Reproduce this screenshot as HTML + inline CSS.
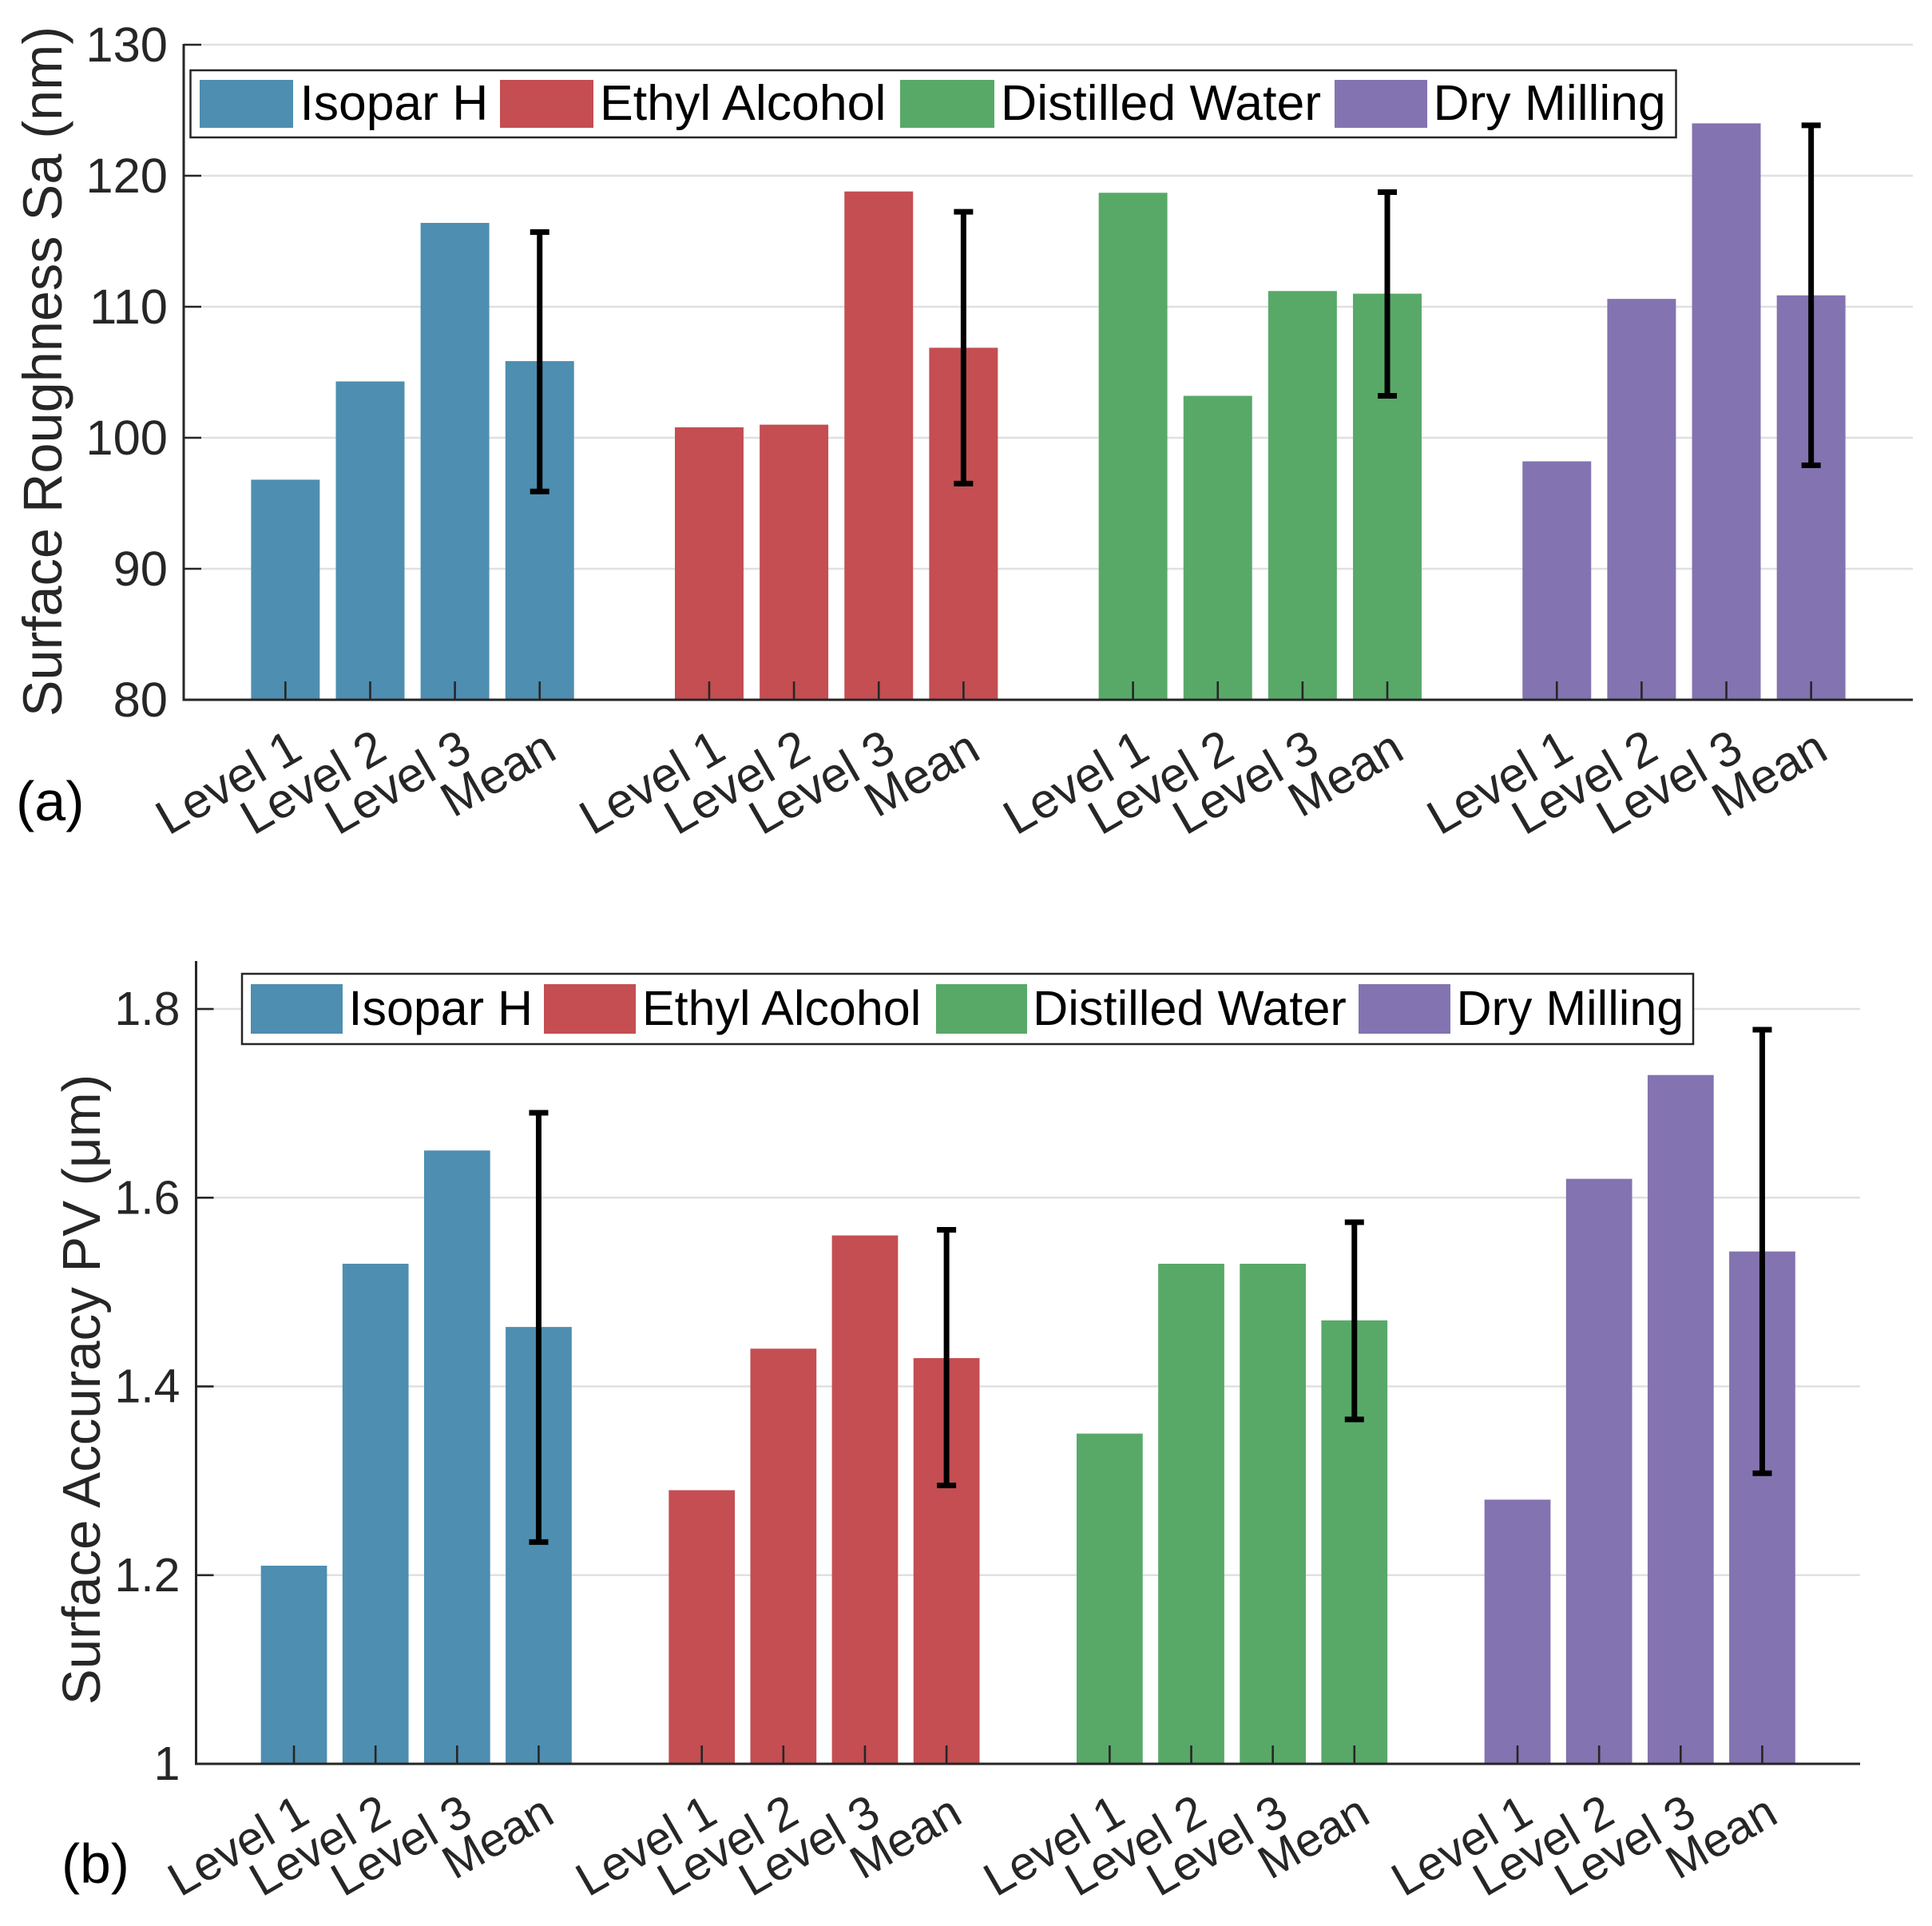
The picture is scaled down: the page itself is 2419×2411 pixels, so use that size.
<!DOCTYPE html>
<html lang="en">
<head>
<meta charset="utf-8">
<title>Surface Roughness and Accuracy</title>
<style>
html,body{margin:0;padding:0;background:#fff;}
svg{display:block;font-family:"Liberation Sans",Arial,sans-serif;}
</style>
</head>
<body>
<svg id="figure" xmlns="http://www.w3.org/2000/svg" width="2419" height="2411" viewBox="0 0 2419 2411">
  <rect width="2419" height="2411" fill="#fff"/>
  <g id="chart-a"></g>
  <g id="chart-b"></g>

  <text transform="translate(77,465) rotate(-90)" text-anchor="middle" font-size="68.5" fill="#262626">Surface Roughness Sa (nm)</text>
  <text transform="translate(125,1739.5) rotate(-90)" text-anchor="middle" font-size="67.2" fill="#262626">Surface Accuracy PV (μm)</text>
  <text x="20" y="1027" font-size="70" fill="#000">(a)</text>
  <text x="77" y="2357" font-size="69.5" fill="#000">(b)</text>

  <g>
    <rect x="238.5" y="88" width="1860" height="84" fill="#fff" stroke="#262626" stroke-width="2.5"/>
    <rect x="250" y="100" width="117" height="60" fill="#4e8eb0"/>
    <text x="375.5" y="150" font-size="62.4" fill="#000">Isopar H</text>
    <rect x="626" y="100" width="117" height="60" fill="#c44e52"/>
    <text x="751" y="150" font-size="62.6" fill="#000">Ethyl Alcohol</text>
    <rect x="1127" y="100" width="118" height="60" fill="#58a968"/>
    <text x="1253" y="150" font-size="62.6" fill="#000">Distilled Water</text>
    <rect x="1671" y="100" width="116" height="60" fill="#8373b0"/>
    <text x="1794.5" y="150" font-size="62.4" fill="#000">Dry Milling</text>
  </g>

  <g>
    <rect x="303" y="1219" width="1817" height="88" fill="#fff" stroke="#262626" stroke-width="2.5"/>
    <rect x="314" y="1232" width="115" height="62" fill="#4e8eb0"/>
    <text x="436.5" y="1283" font-size="61" fill="#000">Isopar H</text>
    <rect x="681" y="1232" width="115" height="62" fill="#c44e52"/>
    <text x="804" y="1283" font-size="61" fill="#000">Ethyl Alcohol</text>
    <rect x="1172" y="1232" width="114" height="62" fill="#58a968"/>
    <text x="1293" y="1283" font-size="61.3" fill="#000">Distilled Water</text>
    <rect x="1701" y="1232" width="115" height="62" fill="#8373b0"/>
    <text x="1823.5" y="1283" font-size="61" fill="#000">Dry Milling</text>
  </g>
</svg>
<script>
// ---- shared categories ----
const levelLabels = ["Level 1", "Level 2", "Level 3", "Mean"];
const groupNames = ["isopar", "ethyl", "water", "dry"];
const groupColors = ["#4e8eb0", "#c44e52", "#58a968", "#8373b0"];

// ---- panel (a): surface roughness Sa (nm) ----
const roughnessIsopar = [96.8, 104.3, 116.4, 105.85];
const roughnessEthyl = [100.8, 101.0, 118.8, 106.87];
const roughnessWater = [118.7, 103.2, 111.2, 111.0];
const roughnessDry = [98.2, 110.6, 124.0, 110.87];
const roughnessErrLow = [95.9, 96.5, 103.2, 97.9];
const roughnessErrHigh = [115.7, 117.25, 118.75, 123.85];
const roughnessTicks = [80, 90, 100, 110, 120, 130];
const roughnessTickLabels = ["80", "90", "100", "110", "120", "130"];

// ---- panel (b): surface accuracy PV (um) ----
const accuracyIsopar = [1.21, 1.53, 1.65, 1.463];
const accuracyEthyl = [1.29, 1.44, 1.56, 1.43];
const accuracyWater = [1.35, 1.53, 1.53, 1.47];
const accuracyDry = [1.28, 1.62, 1.73, 1.543];
const accuracyErrLow = [1.235, 1.295, 1.365, 1.308];
const accuracyErrHigh = [1.69, 1.566, 1.574, 1.778];
const accuracyTicks = [1, 1.2, 1.4, 1.6, 1.8];
const accuracyTickLabels = ["1", "1.2", "1.4", "1.6", "1.8"];

const NS = "http://www.w3.org/2000/svg";
function mk(tag, attrs, parent) {
  const el = document.createElementNS(NS, tag);
  for (const k in attrs) el.setAttribute(k, attrs[k]);
  parent.appendChild(el);
  return el;
}

function drawChart(root, cfg) {
  const xScale = v => cfg.left + (v - cfg.xMin) / (cfg.xMax - cfg.xMin) * (cfg.right - cfg.left);
  const yScale = v => cfg.bottom - (v - cfg.yMin) / (cfg.yMax - cfg.yMin) * (cfg.bottom - cfg.top);
  const unit = xScale(1) - xScale(0);
  const ink = "#262626";

  // gridlines
  cfg.ticks.forEach((t, i) => {
    if (t === cfg.yMin) return;
    const g = mk("line", {x1: cfg.left, x2: cfg.right, y1: yScale(t), y2: yScale(t), stroke: "#e0e0e0", "stroke-width": 2.5}, root);
    
    
  });

  // bars
  const slots = [];
  cfg.series.forEach((vals, g) => {
    vals.forEach((v, i) => {
      const pos = 1 + g * 5 + i;
      slots.push({pos: pos, label: levelLabels[i]});
      const bar = mk("rect", {
        x: xScale(pos) - 0.405 * unit, width: 0.81 * unit,
        y: yScale(v), height: yScale(cfg.yMin) - yScale(v),
        fill: groupColors[g]
      }, root);
      
      
    });
  });

  // x ticks (inward), drawn over bars
  slots.forEach(s => {
    const tick = mk("line", {x1: xScale(s.pos), x2: xScale(s.pos), y1: cfg.bottom, y2: cfg.bottom - 23, stroke: ink, "stroke-width": 2.6}, root);
    
    
    const lab = mk("text", {
      transform: "translate(" + (xScale(s.pos) + cfg.labelDx) + "," + (cfg.bottom + cfg.labelDy) + ") rotate(-30)",
      "text-anchor": "end", "font-size": cfg.xFont, fill: ink
    }, root);
    lab.textContent = s.label;
    
    
  });

  // error bars on the Mean bars
  cfg.errLow.forEach((lo, g) => {
    const hi = cfg.errHigh[g];
    const x = xScale(1 + g * 5 + 3);
    const body = mk("line", {x1: x, x2: x, y1: yScale(hi), y2: yScale(lo), stroke: "#000", "stroke-width": 7}, root);
    
    
    [hi, lo].forEach(v => {
      const cap = mk("line", {x1: x - 12, x2: x + 12, y1: yScale(v), y2: yScale(v), stroke: "#000", "stroke-width": 7}, root);
      
      
    });
  });

  // y ticks and labels
  cfg.ticks.forEach((t, i) => {
    const tick = mk("line", {x1: cfg.left, x2: cfg.left + 22, y1: yScale(t), y2: yScale(t), stroke: ink, "stroke-width": 2.6}, root);
    
    
    const lab = mk("text", {x: cfg.left - cfg.yLabelGap, y: yScale(t) + cfg.yLabelDy, "text-anchor": "end", "font-size": cfg.yFont, fill: ink}, root);
    lab.textContent = cfg.tickLabels[i];
    
    
  });

  // axes
  const yAxis = mk("line", {x1: cfg.left, x2: cfg.left, y1: cfg.top - 1, y2: cfg.bottom + 1.5, stroke: ink, "stroke-width": 3}, root);
  
  
  const xAxis = mk("line", {x1: cfg.left, x2: cfg.right, y1: cfg.bottom, y2: cfg.bottom, stroke: ink, "stroke-width": 3}, root);
  
  
}

drawChart(document.getElementById("chart-a"), {
  left: 230, right: 2395, top: 56, bottom: 876,
  xMin: -0.2, xMax: 20.2, yMin: 80, yMax: 130,
  series: [roughnessIsopar, roughnessEthyl, roughnessWater, roughnessDry],
  errLow: roughnessErrLow, errHigh: roughnessErrHigh,
  ticks: roughnessTicks, tickLabels: roughnessTickLabels,
  labelDx: 24, labelDy: 72, xFont: 61, yFont: 61.5, yLabelGap: 20, yLabelDy: 21
});

drawChart(document.getElementById("chart-b"), {
  left: 245.5, right: 2329, top: 1204, bottom: 2208,
  xMin: -0.2, xMax: 20.2, yMin: 1, yMax: 1.85,
  series: [accuracyIsopar, accuracyEthyl, accuracyWater, accuracyDry],
  errLow: accuracyErrLow, errHigh: accuracyErrHigh,
  ticks: accuracyTicks, tickLabels: accuracyTickLabels,
  labelDx: 22.5, labelDy: 72, xFont: 59, yFont: 59, yLabelGap: 20, yLabelDy: 20
});
</script>
</body>
</html>
